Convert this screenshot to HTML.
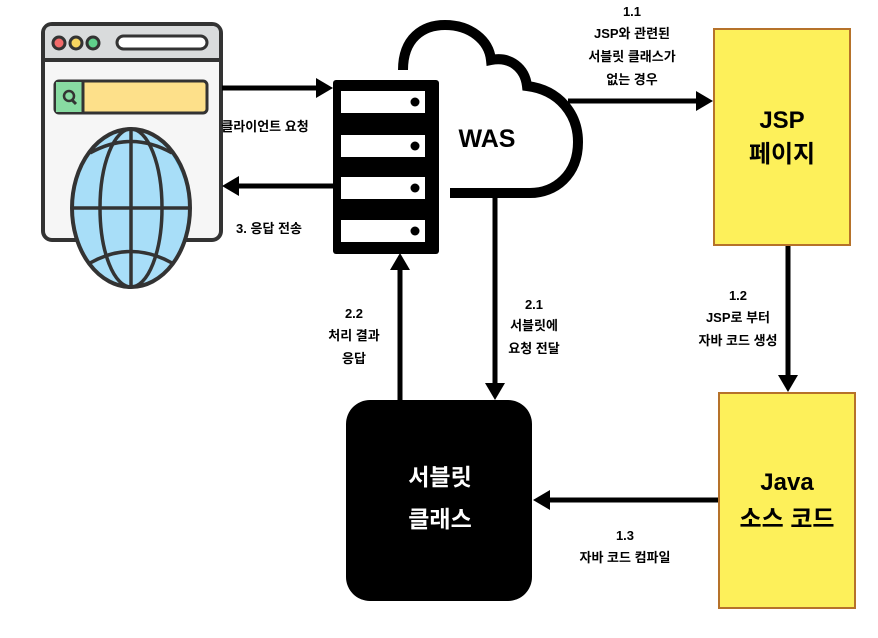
<!DOCTYPE html>
<html><head><meta charset="utf-8"><style>
html,body{margin:0;padding:0;background:#fff;}
svg text{font-family:"Liberation Sans","Noto Sans CJK KR",sans-serif;font-weight:bold;}
</style></head><body>
<svg width="878" height="633" viewBox="0 0 878 633" xmlns="http://www.w3.org/2000/svg">
<defs><clipPath id="gc"><ellipse cx="131" cy="208" rx="59" ry="79"/></clipPath></defs>
<!-- browser -->
<rect x="43" y="24" width="178" height="216" rx="9" fill="#f6f6f6" stroke="#333" stroke-width="4"/>
<path d="M45,60 L219,60 L219,33 Q219,26 212,26 L52,26 Q45,26 45,33 z" fill="#d9dbdc"/>
<line x1="43" y1="60" x2="221" y2="60" stroke="#333" stroke-width="4"/>
<circle cx="59" cy="43" r="6" fill="#f26a6a" stroke="#333" stroke-width="3"/>
<circle cx="76" cy="43" r="6" fill="#f7d560" stroke="#333" stroke-width="3"/>
<circle cx="93" cy="43" r="6" fill="#5fd08b" stroke="#333" stroke-width="3"/>
<rect x="117" y="36" width="90" height="13" rx="6.5" fill="#fff" stroke="#333" stroke-width="3"/>
<rect x="55" y="81" width="152" height="32" rx="4" fill="#fde08a" stroke="#333" stroke-width="3"/>
<rect x="56" y="82" width="26" height="30" fill="#88dba2"/>
<line x1="83" y1="81" x2="83" y2="113" stroke="#333" stroke-width="3"/>
<circle cx="69" cy="96" r="5" fill="none" stroke="#333" stroke-width="2.5"/>
<line x1="72" y1="100" x2="76" y2="104" stroke="#333" stroke-width="3"/>
<!-- globe -->
<ellipse cx="131" cy="208" rx="59" ry="79" fill="#a8def8"/>
<path d="M150,130 Q185,160 190,208 Q185,260 150,286 L200,286 L200,130 z" fill="#5ac3f0" clip-path="url(#gc)"/>
<ellipse cx="131" cy="208" rx="59" ry="79" fill="none" stroke="#333" stroke-width="4"/>
<ellipse cx="131" cy="208" rx="31" ry="79" fill="none" stroke="#333" stroke-width="3.5"/>
<line x1="131" y1="130" x2="131" y2="286" stroke="#333" stroke-width="3.5"/>
<line x1="72" y1="208" x2="190" y2="208" stroke="#333" stroke-width="3.5"/>
<path d="M90,153 Q131,130 172,153" fill="none" stroke="#333" stroke-width="3.5"/>
<path d="M90,263 Q131,240 172,263" fill="none" stroke="#333" stroke-width="3.5"/>
<!-- cloud -->
<path d="M403,70 C403,38 423,25 445,25 C470,25 489,40 491,60 C510,56 525,68 527,86 C560,90 578,115 578,142 C578,175 555,193 530,193 L450,193" fill="none" stroke="#000" stroke-width="10"/>
<text x="487" y="147" font-size="25" text-anchor="middle">WAS</text>
<!-- server -->
<rect x="333" y="80" width="106" height="174" rx="3" fill="#000"/>
<rect x="341" y="91" width="84" height="22" fill="#fff"/>
<rect x="341" y="135" width="84" height="22" fill="#fff"/>
<rect x="341" y="177" width="84" height="22" fill="#fff"/>
<rect x="341" y="220" width="84" height="22" fill="#fff"/>
<circle cx="415" cy="102" r="4.5" fill="#000"/><circle cx="415" cy="146" r="4.5" fill="#000"/>
<circle cx="415" cy="188" r="4.5" fill="#000"/><circle cx="415" cy="231" r="4.5" fill="#000"/>
<!-- arrows -->
<g stroke="#000" stroke-width="5" fill="none">
<line x1="222" y1="88" x2="320" y2="88"/>
<line x1="333" y1="186" x2="236" y2="186"/>
<line x1="568" y1="101" x2="700" y2="101"/>
<line x1="788" y1="246" x2="788" y2="378"/>
<line x1="719" y1="500" x2="546" y2="500"/>
<line x1="400" y1="400" x2="400" y2="266"/>
<line x1="495" y1="193" x2="495" y2="386"/>
</g>
<g fill="#000">
<polygon points="333,88 316,78 316,98"/>
<polygon points="222,186 239,176 239,196"/>
<polygon points="713,101 696,91 696,111"/>
<polygon points="788,392 778,375 798,375"/>
<polygon points="533,500 550,490 550,510"/>
<polygon points="400,253 390,270 410,270"/>
<polygon points="495,400 485,383 505,383"/>
</g>
<!-- boxes -->
<rect x="714" y="29" width="136" height="216" fill="#fdf05a" stroke="#b6722a" stroke-width="2"/>
<rect x="719" y="393" width="136" height="215" fill="#fdf05a" stroke="#b6722a" stroke-width="2"/>
<rect x="346" y="400" width="186" height="201" rx="24" fill="#000"/>
<g font-size="24" text-anchor="middle">
<text x="782" y="128">JSP</text><text x="782" y="162">페이지</text>
<text x="787" y="490">Java</text><text x="787" y="527">소스 코드</text>
</g>
<g font-size="23" text-anchor="middle" fill="#fff" style="font-weight:normal">
<text x="440" y="485">서블릿</text><text x="440" y="527">클래스</text>
</g>
<g font-size="13" text-anchor="middle">
<text x="265" y="131">클라이언트 요청</text>
<text x="269" y="233">3. 응답 전송</text>
<text x="632" y="16">1.1</text><text x="632" y="38">JSP와 관련된</text>
<text x="632" y="61">서블릿 클래스가</text><text x="632" y="84">없는 경우</text>
<text x="738" y="300">1.2</text><text x="738" y="322">JSP로 부터</text><text x="738" y="345">자바 코드 생성</text>
<text x="534" y="309">2.1</text><text x="534" y="330">서블릿에</text><text x="534" y="353">요청 전달</text>
<text x="354" y="318">2.2</text><text x="354" y="340">처리 결과</text><text x="354" y="363">응답</text>
<text x="625" y="540">1.3</text><text x="625" y="562">자바 코드 컴파일</text>
</g>
</svg>
</body></html>
